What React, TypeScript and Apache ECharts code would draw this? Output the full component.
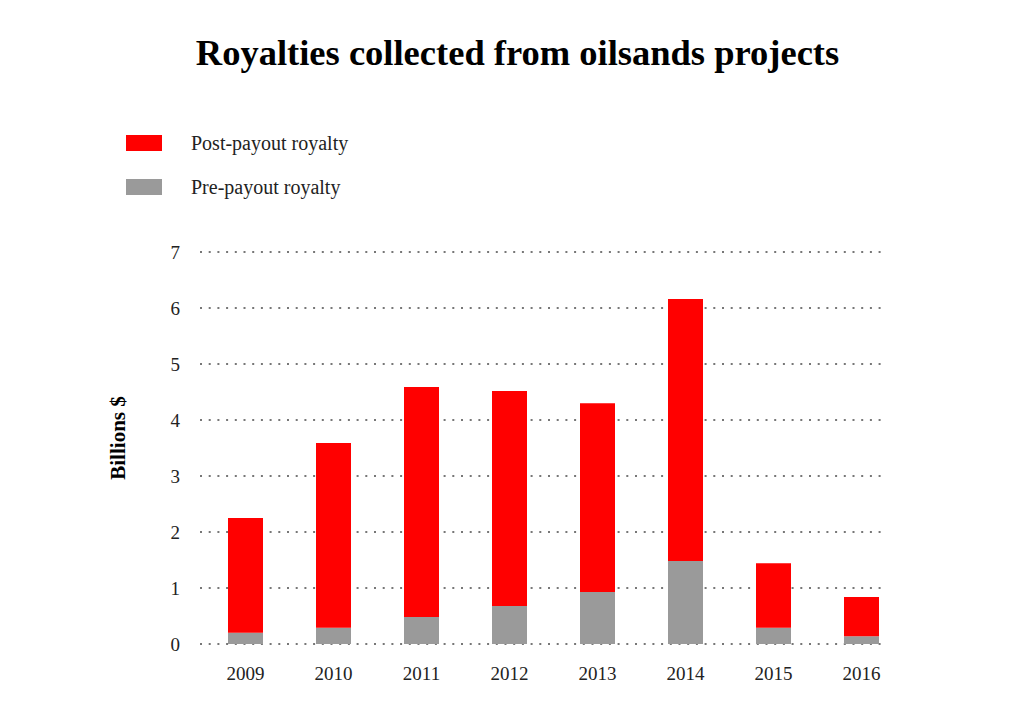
import React, { useEffect, useRef } from "react";
import * as echarts from "echarts";

const years = ["2009", "2010", "2011", "2012", "2013", "2014", "2015", "2016"];
const prePayout = [0.2, 0.29, 0.48, 0.68, 0.93, 1.48, 0.29, 0.14];
const postPayout = [2.05, 3.3, 4.11, 3.84, 3.37, 4.68, 1.15, 0.7];
const yTicks = [0, 1, 2, 3, 4, 5, 6, 7];

const FONT = "'Liberation Serif', 'DejaVu Serif', serif";

export default function App() {
  const ref = useRef<HTMLDivElement>(null);
  useEffect(() => {
    if (!ref.current) return;
    const chart = echarts.init(ref.current, undefined, { renderer: "svg" });
    chart.setOption({
      animation: false,
      backgroundColor: "#ffffff",
      title: {
        text: "Royalties collected from oilsands projects",
        left: "center",
        top: 29,
        textStyle: { fontFamily: FONT, fontSize: 36.5, fontWeight: "bold", color: "#000" },
      },
      legend: {
        orient: "vertical",
        left: 121,
        top: 128,
        itemWidth: 36,
        itemHeight: 16,
        itemGap: 24,
        icon: "rect",
        data: ["Post-payout royalty", "Pre-payout royalty"],
        textStyle: { fontFamily: FONT, fontSize: 20, color: "#222", padding: [0, 0, 0, 24] },
      },
      graphic: [
        {
          type: "text",
          x: 118,
          y: 438,
          rotation: Math.PI / 2,
          style: {
            text: "Billions $",
            font: `bold 21px ${FONT}`,
            fill: "#000",
            align: "center",
            verticalAlign: "middle",
          },
        },
      ],
      grid: [
        { left: 200, right: 149, top: 252, bottom: 69 },
        { left: 201.5, right: 129.5, top: 252, bottom: 69 },
      ],
      xAxis: [
        { type: "category", gridIndex: 0, data: years, show: false },
        {
          type: "category",
          gridIndex: 1,
          data: years,
          axisLine: { show: false },
          axisTick: { show: false },
          axisLabel: { fontFamily: FONT, fontSize: 19, color: "#222", margin: 20 },
        },
      ],
      yAxis: [
        {
          type: "value",
          gridIndex: 0,
          min: 0,
          max: 7,
          interval: 1,
          axisLine: { show: false },
          axisTick: { show: false },
          axisLabel: {
            fontFamily: FONT,
            fontSize: 19,
            color: "#222",
            margin: 20,
            formatter: (v: number) => (yTicks.includes(v) ? String(v) : ""),
          },
          splitLine: { lineStyle: { color: "#777", width: 2, type: [2, 6.7] } },
        },
        { type: "value", gridIndex: 1, min: 0, max: 7, interval: 1, show: false, splitLine: { show: false } },
      ],
      series: [
        {
          name: "Pre-payout royalty",
          type: "bar",
          stack: "r",
          xAxisIndex: 1,
          yAxisIndex: 1,
          barWidth: 35,
          itemStyle: { color: "#9a9a9a" },
          data: prePayout,
        },
        {
          name: "Post-payout royalty",
          type: "bar",
          stack: "r",
          xAxisIndex: 1,
          yAxisIndex: 1,
          barWidth: 35,
          itemStyle: { color: "#ff0000" },
          data: postPayout,
        },
      ],
    });
    return () => chart.dispose();
  }, []);
  return (
    <div
      ref={ref}
      style={{ position: "fixed", left: 0, top: 0, width: 1035, height: 713, background: "#fff" }}
    />
  );
}
